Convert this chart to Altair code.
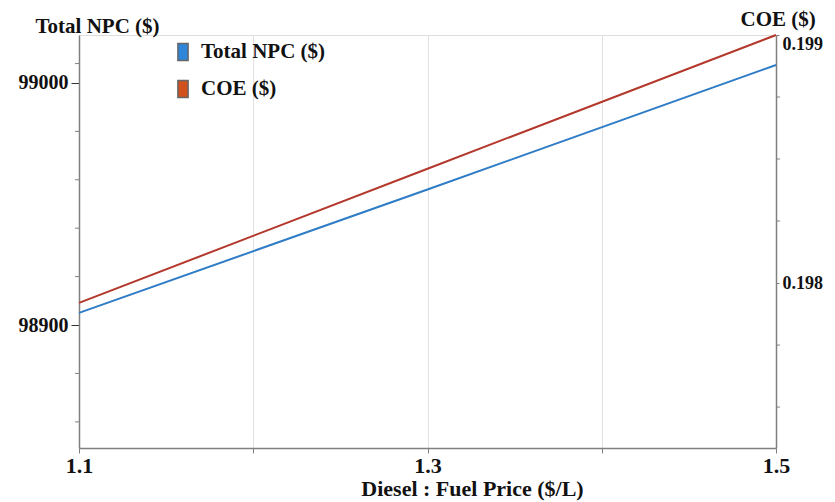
import altair as alt
import pandas as pd

fuel_price = [1.1, 1.3, 1.5]
total_npc = [98905, 98956, 99007.4]
coe = [0.19792, 0.198461, 0.199]
series_names = ["Total NPC ($)", "COE ($)"]
series_colors = ["#2f7cc6", "#b3372a"]
legend_colors = ["#2f86d8", "#d2501c"]
x_ticks = [1.1, 1.2, 1.3, 1.4, 1.5]
npc_ticks = [98900, 99000]
npc_minor = [98860, 98880, 98920, 98940, 98960, 98980, 99008]
coe_ticks = [0.198, 0.199]
coe_minor = [0.1975, 0.19775, 0.19825, 0.1985, 0.19875]

df_npc = pd.DataFrame({"x": fuel_price, "y": total_npc, "series": series_names[0]})
df_coe = pd.DataFrame({"x": fuel_price, "y": coe, "series": series_names[1]})
df_npc_minor = pd.DataFrame({"y": npc_minor})
df_coe_minor = pd.DataFrame({"y": coe_minor})
df_leg = pd.DataFrame({"series": series_names})

FONT = "Liberation Serif"
W, H = 697, 413

color = alt.Color(
    "series:N",
    scale=alt.Scale(domain=series_names, range=series_colors),
    legend=None,
)

x_enc = alt.X(
    "x:Q",
    scale=alt.Scale(domain=[1.1, 1.5], nice=False, zero=False),
    axis=alt.Axis(
        values=x_ticks, title="Diesel : Fuel Price ($/L)",
        labelExpr="(abs(datum.value-1.2)<0.001 || abs(datum.value-1.4)<0.001) ? '' : format(datum.value, '.1f')",
        grid=True, gridColor="#e2e2e2", gridWidth=1,
        domainColor="#808080", tickColor="#808080", tickSize=5, domainWidth=1.5,
        labelFont=FONT, labelFontSize=22, labelFontWeight="bold", labelColor="#111",
        labelPadding=2, labelFlush=False,
        titleFont=FONT, titleFontSize=22, titleFontWeight="bold", titleColor="#111",
        titleX=393, titleY=47, titleBaseline="alphabetic", titleAlign="center",
    ),
)

npc_y = alt.Y(
    "y:Q",
    scale=alt.Scale(domain=[98849.2, 99019.8], nice=False, zero=False),
    axis=alt.Axis(
        values=npc_ticks, format="d", grid=False, orient="left",
        title="Total NPC ($)", titleAngle=0, titleX=-44, titleY=-3,
        titleAlign="left", titleBaseline="alphabetic",
        titleFont=FONT, titleFontSize=21, titleFontWeight="bold", titleColor="#111",
        domainColor="#808080", tickColor="#333", tickSize=8, domainWidth=1.5,
        labelFont=FONT, labelFontSize=20, labelFontWeight="bold", labelColor="#111",
        labelPadding=3,
    ),
)

coe_y = alt.Y(
    "y:Q",
    scale=alt.Scale(domain=[0.197335, 0.199], nice=False, zero=False),
    axis=alt.Axis(
        values=coe_ticks, format=".3f", grid=False, orient="right",
        title="COE ($)", titleAngle=0, titleX=-36, titleY=-10,
        titleAlign="left", titleBaseline="alphabetic",
        titleFont=FONT, titleFontSize=21, titleFontWeight="bold", titleColor="#111",
        domainColor="#808080", tickColor="#808080", tickSize=3, domainWidth=1.5,
        labelFont=FONT, labelFontSize=18, labelFontWeight="bold", labelColor="#111",
        labelPadding=3, labelFlush=True,
    ),
)

npc_line = alt.Chart(df_npc).mark_line(strokeWidth=2).encode(x=x_enc, y=npc_y, color=color)
npc_min = alt.Chart(df_npc_minor).mark_rule(color="#808080", strokeWidth=1).encode(
    x=alt.value(-4), x2=alt.value(0), y=npc_y
)

coe_line = alt.Chart(df_coe).mark_line(strokeWidth=2).encode(x=x_enc, y=coe_y, color=color)
coe_min = alt.Chart(df_coe_minor).mark_rule(color="#808080", strokeWidth=1).encode(
    x=alt.value(W), x2=alt.value(W + 4), y=coe_y
)

leg_y = alt.Y("series:N", scale=alt.Scale(domain=series_names, range=[17, 54], type="point", padding=0), axis=None)

leg_sym = alt.Chart(df_leg).mark_point(
    shape="M-0.6,-1H0.6V1H-0.6Z", size=289, filled=True, opacity=1,
    stroke="#666", strokeWidth=1.5,
).encode(
    x=alt.value(104),
    y=leg_y,
    fill=alt.Fill("series:N", scale=alt.Scale(domain=series_names, range=legend_colors), legend=None),
)

leg_txt = alt.Chart(df_leg).mark_text(
    align="left", baseline="middle", font=FONT, fontSize=21, fontWeight="bold", color="#111",
).encode(
    x=alt.value(122),
    y=leg_y,
    text="series:N",
)

chart = (
    alt.layer(
        alt.layer(npc_line, npc_min),
        alt.layer(coe_line, coe_min),
        leg_sym, leg_txt,
    )
    .resolve_scale(y="independent")
    .properties(
        width=W, height=H,
        autosize=alt.AutoSizeParams(type="none"),
        padding={"left": 71, "top": 27, "right": 51, "bottom": 54},
    )
    .configure_view(stroke=None)
    .configure_axis(labelFont=FONT, titleFont=FONT)
    .configure(background="white")
)

chart.save("out.html", embed_options={"renderer": "svg", "actions": False})
